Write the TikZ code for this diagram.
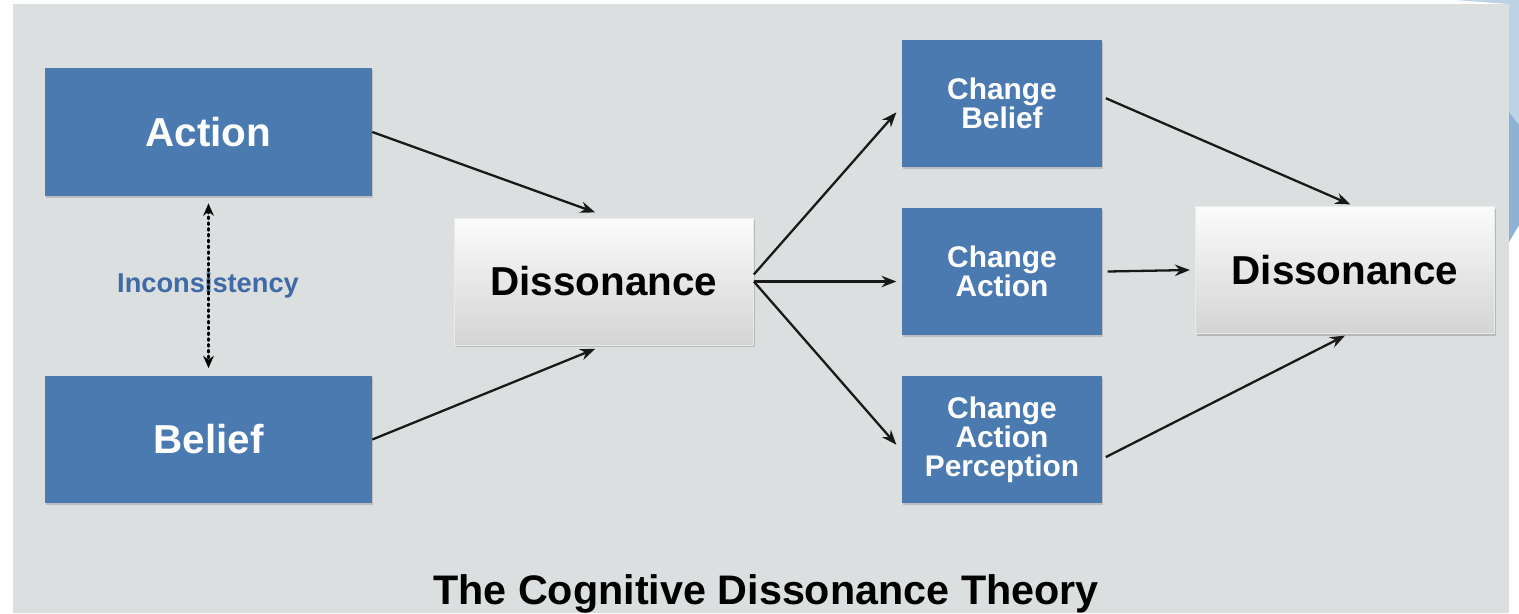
\documentclass[tikz,border=0pt]{standalone}
\usepackage{fontspec}
\setmainfont{Liberation Sans}
\usetikzlibrary{arrows.meta,positioning,calc,shadows}

\definecolor{panelgrey}{HTML}{DCDFE0}
\definecolor{boxblue}{HTML}{4B7AB1}
\definecolor{labelblue}{HTML}{3F6AA5}
\definecolor{decolight}{HTML}{BCD3E6}
\definecolor{decodark}{HTML}{8DB2D4}

\tikzset{
  bluebox/.style={rectangle, fill=boxblue, text=white, align=center,
    inner sep=0pt, drop shadow={shadow xshift=0.6pt, shadow yshift=-1pt, opacity=0.35}},
  bigbox/.style={bluebox, minimum width=6.54cm, minimum height=2.56cm,
    font=\fontsize{23}{24}\selectfont\bfseries},
  smallbox/.style={bluebox, minimum width=4cm, minimum height=2.54cm,
    font=\fontsize{17}{16.5}\selectfont\bfseries},
  greybox/.style={rectangle, top color=white!97!gray, bottom color=black!17,
    draw=black!8, text=black, inner sep=0pt, minimum width=5.98cm, minimum height=2.54cm,
    font=\fontsize{23}{24}\selectfont\bfseries,
    drop shadow={shadow xshift=0.6pt, shadow yshift=-1.2pt, opacity=0.4}},
  flow/.style={-{Stealth[length=8.5pt,width=6.5pt]}, line width=1.3pt, black!90}
}

\begin{document}
\begin{tikzpicture}[x=0.02cm,y=-0.02cm]
      \useasboundingbox (0,0) rectangle (1519,613);
      \clip (0,0) rectangle (1519,613);
      % background, corner decoration and grey panel
      \fill[white] (0,0) rectangle (1519,613);
      \fill[decolight] (1455,0) -- (1519,0) -- (1519,125) -- (1509,112) -- (1509,4) -- cycle;
      \fill[decodark] (1509,112) -- (1519,125) -- (1519,225) -- (1509,242) -- cycle;
      \fill[panelgrey] (13,4) rectangle (1509,613);
      % left column
      \node[bigbox] (action) at (208.5,132) {Action};
      \node[bigbox] (belief) at (208.5,439.5) {Belief};
      \node[text=labelblue, font=\fontsize{15.5}{16}\selectfont\bfseries] (incons) at (208,285) {Inconsistency};
      \draw[{Stealth[length=7pt,width=6pt]}-{Stealth[length=7pt,width=6pt]}, line width=1.3pt, dotted, line cap=round]
        ([yshift=-4pt]action.south) -- ([yshift=4pt]belief.north);
      % first dissonance
      \node[greybox] (dis1) at (604,281.5) {Dissonance};
      % three ways out
      \node[smallbox] (cbelief) at (1002,103.5) {Change\\Belief};
      \node[smallbox] (caction) at (1002,271.5) {Change\\Action};
      \node[smallbox] (cpercep) at (1002,439.5) {Change\\Action\\Perception};
      % second dissonance
      \node[greybox] (dis2) at (1345,270) {Dissonance};
      % connectors
      \draw[flow] (action.east) -- ([xshift=-5pt,yshift=3pt]dis1.north);
      \draw[flow] (belief.east) -- ([xshift=-5pt,yshift=-2pt]dis1.south);
      \draw[flow] ([yshift=4pt]dis1.east) -- ([xshift=-3pt,yshift=-5pt]cbelief.west);
      \draw[flow] (dis1.east) -- ([xshift=-3pt]caction.west |- dis1.east);
      \draw[flow] (dis1.east) -- ([xshift=-3pt,yshift=-3pt]cpercep.west);
      \draw[flow] ([xshift=2pt,yshift=3pt]cbelief.east) -- ([xshift=3pt,yshift=1pt]dis2.north);
      \draw[flow] ([xshift=3pt]caction.east) -- ([xshift=-3pt]dis2.west);
      \draw[flow] ([xshift=2pt,yshift=-10pt]cpercep.east) -- ([yshift=-1pt]dis2.south);
      % title at the lower edge
      \node[anchor=base, font=\fontsize{23.5}{24}\selectfont\bfseries] (title) at (766,604) {The Cognitive Dissonance Theory};
\end{tikzpicture}
\end{document}
